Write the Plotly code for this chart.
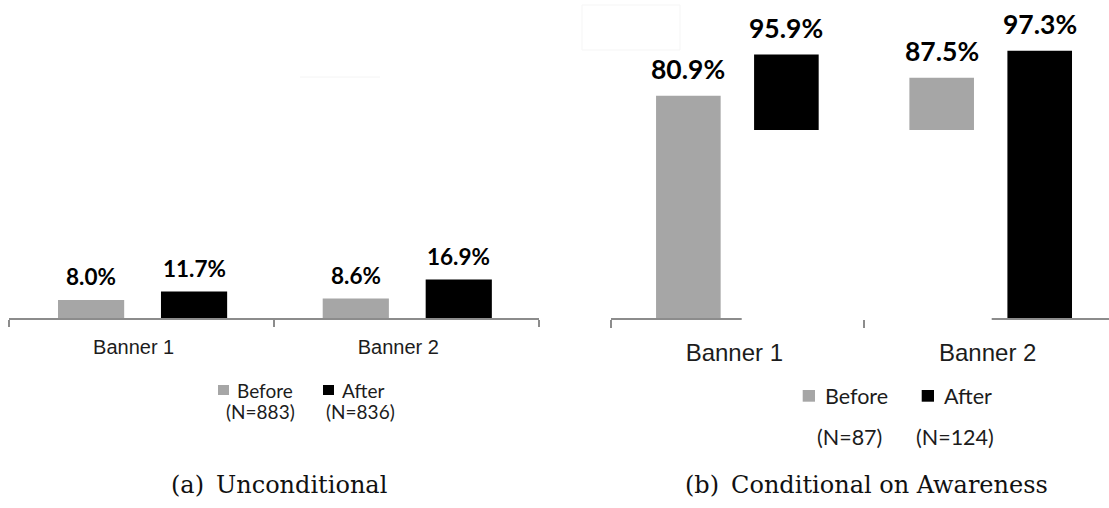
import plotly.graph_objects as go

# ---------------- data ----------------
categories = ["Banner 1", "Banner 2"]
series_names = ["Before", "After"]
uncond_before = [8.0, 8.6]
uncond_after = [11.7, 16.9]
cond_before = [80.9, 87.5]
cond_after = [95.9, 97.3]
uncond_n = ["(N=883)", "(N=836)"]
cond_n = ["(N=87)", "(N=124)"]
captions = ["(a)\u2002Unconditional", "(b)\u2002Conditional on Awareness"]

# ---------------- style ----------------
W, H = 1109, 508
GRAY = "#a6a6a6"
BLACK = "#000000"
AXIS = "#8c8c8c"
TXT = "#1c1c1c"
LABEL_FONT = "Lato"
TICK_FONT = "Liberation Sans"
CAP_FONT = "DejaVu Serif"


def px(x):
    return x / W


def py(y):
    return (H - y) / H


panels = [
    dict(xa="x", ya="y", before=uncond_before, after=uncond_after,
         width=0.25, off_b=-0.316, off_a=0.073, lab_size=22.5, lab_shift=23),
    dict(xa="x2", ya="y2", before=cond_before, after=cond_after,
         width=0.255, off_b=-0.321, off_a=0.066, lab_size=26.5, lab_shift=26.5),
]

fig = go.Figure()
annotations = []
for p in panels:
    for name, vals, color, off in (("Before", p["before"], GRAY, p["off_b"]),
                                   ("After", p["after"], BLACK, p["off_a"])):
        fig.add_trace(go.Bar(
            x=categories, y=vals, name=name, width=p["width"], offset=off,
            marker=dict(color=color, line=dict(width=0)),
            xaxis=p["xa"], yaxis=p["ya"], showlegend=False,
            hoverinfo="skip",
        ))
        for i, v in enumerate(vals):
            annotations.append(dict(
                x=i + off + p["width"] / 2, y=v, xref=p["xa"], yref=p["ya"],
                text=f"<b>{v:.1f}%</b>", showarrow=False, yanchor="middle",
                yshift=p["lab_shift"],
                font=dict(family=LABEL_FONT, size=p["lab_size"], color="#000"),
            ))

axis_common = dict(type="category", showline=True, linecolor=AXIS, linewidth=2,
                   ticks="outside", tickson="boundaries", tickwidth=2,
                   tickcolor=AXIS, showgrid=False, zeroline=False,
                   fixedrange=True)

fig.update_layout(
    width=W, height=H, margin=dict(l=0, r=0, t=0, b=0),
    paper_bgcolor="white", plot_bgcolor="rgba(0,0,0,0)",
    barmode="overlay", showlegend=False,
    xaxis=dict(domain=[px(9.3), px(538.7)], anchor="y", range=[-0.5, 1.5],
               ticklen=7, tickfont=dict(family=TICK_FONT, size=20, color=TXT),
               ticklabelshift=-8, ticklabelstandoff=10, **axis_common),
    yaxis=dict(domain=[py(318.3), py(88.3)], range=[0, 100], visible=False,
               fixedrange=True),
    xaxis2=dict(domain=[px(610.7), 1.0], anchor="y2", range=[-0.5, 1.467],
                ticklen=8, tickfont=dict(family=TICK_FONT, size=24, color=TXT),
                ticklabelshift=-3, ticklabelstandoff=12, **axis_common),
    yaxis2=dict(domain=[py(318.3), py(43.3)], range=[0, 100], visible=False,
                fixedrange=True),
)

shapes = []
# occluding white patch in panel (b), as in the source image
shapes.append(dict(type="rect", xref="paper", yref="paper",
                   x0=px(741.7), x1=px(991.7), y0=py(320), y1=py(130),
                   fillcolor="white", line=dict(width=0), layer="above"))
# faint artefacts of the source image
shapes.append(dict(type="rect", xref="paper", yref="paper",
                   x0=px(582), x1=px(680), y0=py(50), y1=py(5),
                   fillcolor="rgba(0,0,0,0)", line=dict(color="#f5f5f5", width=1)))
shapes.append(dict(type="line", xref="paper", yref="paper",
                   x0=px(300), x1=px(380), y0=py(77), y1=py(77),
                   line=dict(color="#f4f4f4", width=1)))

# legends (key squares + labels + N)
legends = [
    dict(sq=[(218, 229, GRAY), (323, 334, BLACK)], sy=(385, 395),
         tx=[235, 340], ty=390, size=19, n=uncond_n, nx=[260.5, 360.5], ny=411.7),
    dict(sq=[(802.7, 815, GRAY), (921.7, 934, BLACK)], sy=(390, 401.7),
         tx=[823, 941.7], ty=395.5, size=21.5, n=cond_n, nx=[849.7, 955.3], ny=436.7),
]
for lg in legends:
    for (x0, x1, c), t, name, nx, ntxt in zip(lg["sq"], lg["tx"], series_names,
                                              lg["nx"], lg["n"]):
        shapes.append(dict(type="rect", xref="paper", yref="paper",
                           x0=px(x0), x1=px(x1), y0=py(lg["sy"][1]), y1=py(lg["sy"][0]),
                           fillcolor=c, line=dict(width=0)))
        annotations.append(dict(x=px(t), y=py(lg["ty"]), xref="paper", yref="paper",
                                text=name, showarrow=False, xanchor="left",
                                yanchor="middle",
                                font=dict(family=LABEL_FONT, size=lg["size"], color=TXT)))
        annotations.append(dict(x=px(nx), y=py(lg["ny"]), xref="paper", yref="paper",
                                text=ntxt, showarrow=False, xanchor="center",
                                yanchor="middle",
                                font=dict(family=LABEL_FONT, size=lg["size"], color=TXT)))

# captions
for cap, cx in zip(captions, [279, 866]):
    annotations.append(dict(x=px(cx), y=py(485), xref="paper", yref="paper",
                            text=cap, showarrow=False, xanchor="center",
                            yanchor="middle",
                            font=dict(family=CAP_FONT, size=24, color="#111")))

fig.update_layout(shapes=shapes, annotations=annotations)
fig.write_html("out.html")
